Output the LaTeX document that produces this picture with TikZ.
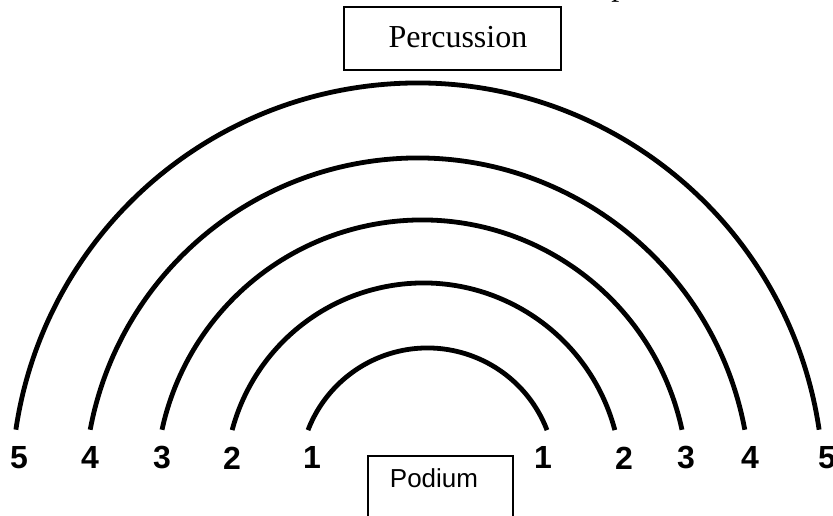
\documentclass[tikz,border=0pt]{standalone}
\usepackage{fontspec}
\setmainfont{Liberation Serif}
\setsansfont{Liberation Sans}
\usetikzlibrary{positioning}

\begin{document}
\begin{tikzpicture}[x=0.75pt,y=0.75pt,
  seatrow/.style={line width=3.6pt},
  seatnum/.style={font=\sffamily\bfseries\fontsize{24}{24}\selectfont,inner sep=0pt},
  frame/.style={line width=1.5pt}]
\useasboundingbox (0,0) rectangle (833,516);
% rows of chairs, inner to outer
\foreach \cx/\cy/\r/\a in {427.5/40/128/21,423.5/35/198/14.9,422/30/266/12.2,417.5/25/333/10.6,417.5/27/406/8.4}
  \draw[seatrow] (\cx,\cy) ++(\a:{\r*0.75pt}) arc[start angle=\a,end angle={180-\a},radius={\r*0.75pt}];
% row numbers
\foreach \x [count=\n] in {312,232,162,90,19}
  \node[seatnum] (left\n) at (\x,58) {\n};
\foreach \x [count=\n] in {543,624,686,750,827}
  \node[seatnum] (right\n) at (\x,58) {\n};
% percussion at the back
\draw[frame] (344,446) rectangle (561,509);
\node[font=\fontsize{24}{24}\selectfont] (perc) at (458,479) {Percussion};
\node[anchor=base west,font=\fontsize{24}{24}\selectfont,inner sep=0pt] (cut) at (595,520) {, p};
% podium at the front
\draw[line width=0.9pt] (368,-4) -- (368,60) -- (513,60) -- (513,-4);
\node[font=\sffamily\fontsize{19.5}{19.5}\selectfont] (podium) at (434,38) {Podium};
\end{tikzpicture}
\end{document}
